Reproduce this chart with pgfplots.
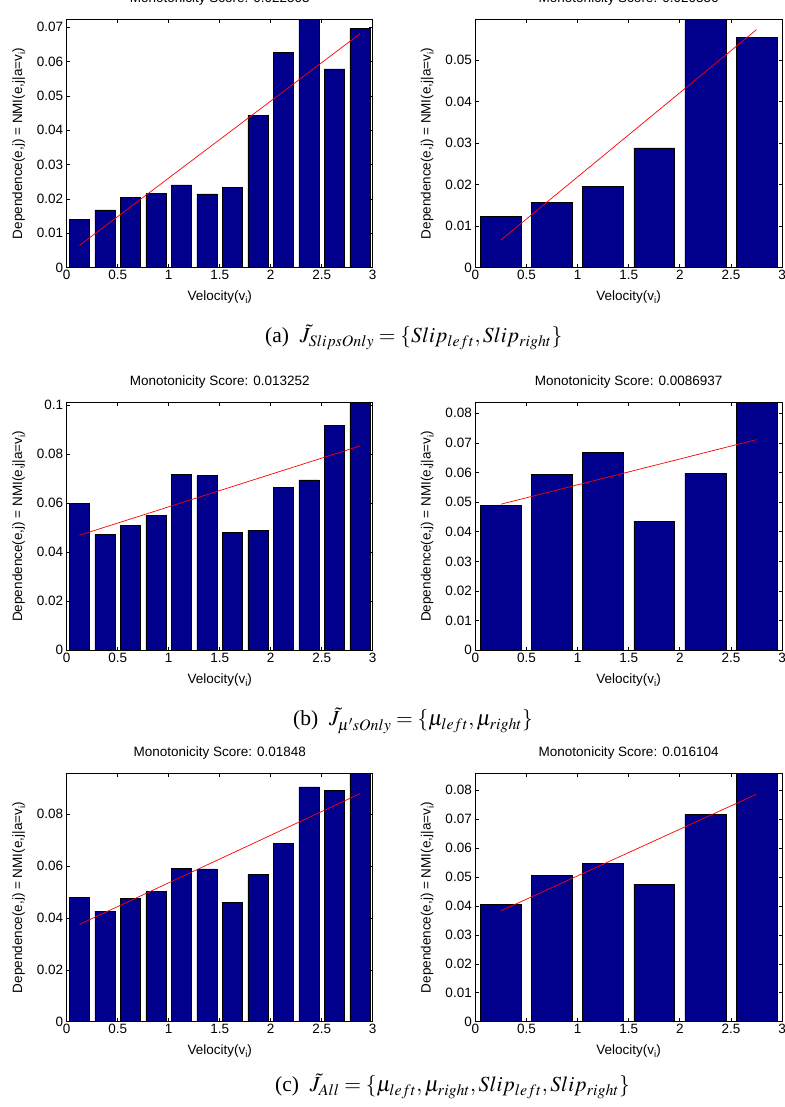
\documentclass[border=0pt]{standalone}
\usepackage{mathptmx}
\usepackage[no-math]{fontspec}
\setmainfont{Liberation Sans}
\newfontfamily\capfont{Liberation Serif}
\usepackage{pgfplots}
\pgfplotsset{compat=1.18}
\definecolor{matnavy}{RGB}{0,0,140}
\newcommand{\lblfont}{\fontsize{13.5}{16}\selectfont}
\newcommand{\subi}{\raisebox{-0.45ex}{\fontsize{9.5}{10}\selectfont i}}
\pgfplotsset{
  matax/.style={
    scale only axis,
    height=248pt,
    xmin=0, xmax=3,
    ymin=0,
    xtick={0,0.5,1,1.5,2,2.5,3},
    axis on top,
    axis line style={black, line width=0.7pt},
    tick align=inside,
    major tick length=3.5pt,
    tick style={black, line width=0.6pt},
    scaled y ticks=false,
    /pgf/number format/assume math mode=true,
    yticklabel style={/pgf/number format/fixed, /pgf/number format/precision=3, font=\lblfont},
    xticklabel style={/pgf/number format/fixed, font=\lblfont, inner ysep=2.5pt},
    title style={font=\lblfont, at={(axis description cs:0.5,1)}, anchor=base, yshift=11pt},
    xlabel={Velocity(v\subi)},
    ylabel={Dependence(e,j) = NMI(e,j|a=v\subi)},
    xlabel style={font=\lblfont, at={(axis description cs:0.5,0)}, anchor=base, yshift=-33pt},
    ylabel style={font=\lblfont, at={(axis description cs:-0.1454,0.5)}, anchor=base},
  },
  barstyle/.style={ybar, bar shift=0pt, fill=matnavy, draw=black, line width=0.5pt},
  fitstyle/.style={red, line width=0.7pt, no marks, sharp plot},
}
\begin{document}
\begin{tikzpicture}[x=1pt,y=1pt]
\path[use as bounding box] (0,0) rectangle (784,1107);

% ---------- (a) left
\begin{axis}[matax, at={(66.7pt,839.3pt)}, anchor=south west, width=306pt,
  ymax=0.0722, ytick={0,0.01,0.02,0.03,0.04,0.05,0.06,0.07},
  title={Monotonicity Score: 0.022503}]
\addplot[barstyle, bar width=0.2] coordinates {
 (0.125,0.01405) (0.375,0.01686) (0.625,0.02045) (0.875,0.0216)
 (1.125,0.0241) (1.375,0.0215) (1.625,0.02345) (1.875,0.0443)
 (2.125,0.0627) (2.375,0.0722) (2.625,0.0579) (2.875,0.0696)};
\addplot[fitstyle] coordinates {(0.125,0.0065) (2.875,0.0681)};
\end{axis}

% ---------- (a) right
\begin{axis}[matax, at={(475.3pt,839.3pt)}, anchor=south west, width=306.7pt,
  ymax=0.0597, ytick={0,0.01,0.02,0.03,0.04,0.05},
  title={Monotonicity Score: 0.020356}]
\addplot[barstyle, bar width=0.4] coordinates {
 (0.25,0.01242) (0.75,0.0157) (1.25,0.01963) (1.75,0.02885)
 (2.25,0.0597) (2.75,0.05537)};
\addplot[fitstyle] coordinates {(0.25,0.00665) (2.75,0.0573)};
\end{axis}

% ---------- (b) left
\begin{axis}[matax, at={(66.7pt,456.7pt)}, anchor=south west, width=306pt,
  ymax=0.1011, ytick={0,0.02,0.04,0.06,0.08,0.1},
  title={Monotonicity Score: 0.013252}]
\addplot[barstyle, bar width=0.2] coordinates {
 (0.125,0.0600) (0.375,0.0473) (0.625,0.0509) (0.875,0.0550)
 (1.125,0.0718) (1.375,0.0712) (1.625,0.0480) (1.875,0.0490)
 (2.125,0.0664) (2.375,0.0695) (2.625,0.0918) (2.875,0.1011)};
\addplot[fitstyle] coordinates {(0.125,0.0469) (2.875,0.0833)};
\end{axis}

% ---------- (b) right
\begin{axis}[matax, at={(475.3pt,456.7pt)}, anchor=south west, width=306.7pt,
  ymax=0.0837, ytick={0,0.01,0.02,0.03,0.04,0.05,0.06,0.07,0.08},
  title={Monotonicity Score: 0.0086937}]
\addplot[barstyle, bar width=0.4] coordinates {
 (0.25,0.0490) (0.75,0.0593) (1.25,0.0667) (1.75,0.0434)
 (2.25,0.0598) (2.75,0.0837)};
\addplot[fitstyle] coordinates {(0.25,0.0493) (2.75,0.0711)};
\end{axis}

% ---------- (c) left
\begin{axis}[matax, at={(66.7pt,85.3pt)}, anchor=south west, width=306pt,
  ymax=0.0956, ytick={0,0.02,0.04,0.06,0.08},
  title={Monotonicity Score: 0.01848}]
\addplot[barstyle, bar width=0.2] coordinates {
 (0.125,0.0479) (0.375,0.0426) (0.625,0.0475) (0.875,0.0501)
 (1.125,0.0591) (1.375,0.0589) (1.625,0.0460) (1.875,0.0569)
 (2.125,0.0687) (2.375,0.0905) (2.625,0.0891) (2.875,0.0956)};
\addplot[fitstyle] coordinates {(0.125,0.0375) (2.875,0.0879)};
\end{axis}

% ---------- (c) right
\begin{axis}[matax, at={(475.3pt,85.3pt)}, anchor=south west, width=306.7pt,
  ymax=0.0857, ytick={0,0.01,0.02,0.03,0.04,0.05,0.06,0.07,0.08},
  title={Monotonicity Score: 0.016104}]
\addplot[barstyle, bar width=0.4] coordinates {
 (0.25,0.0406) (0.75,0.0505) (1.25,0.0547) (1.75,0.0475)
 (2.25,0.0717) (2.75,0.0857)};
\addplot[fitstyle] coordinates {(0.25,0.0383) (2.75,0.0786)};
\end{axis}

% ---------- captions
\node[anchor=base west, inner sep=0pt, font=\fontsize{21.5}{24}\selectfont] at (265,764)
  {\capfont (a)\ \ $\tilde{J}_{SlipsOnly}=\{Slip_{left},Slip_{right}\}$};
\node[anchor=base west, inner sep=0pt, font=\fontsize{21.5}{24}\selectfont] at (293,381)
  {\capfont (b)\ \ $\tilde{J}_{\mu' sOnly}=\{\mu_{left},\mu_{right}\}$};
\node[anchor=base west, inner sep=0pt, font=\fontsize{21.5}{24}\selectfont] at (275,15)
  {\capfont (c)\ \ $\tilde{J}_{All}=\{\mu_{left},\mu_{right},Slip_{left},Slip_{right}\}$};
\end{tikzpicture}
\end{document}
